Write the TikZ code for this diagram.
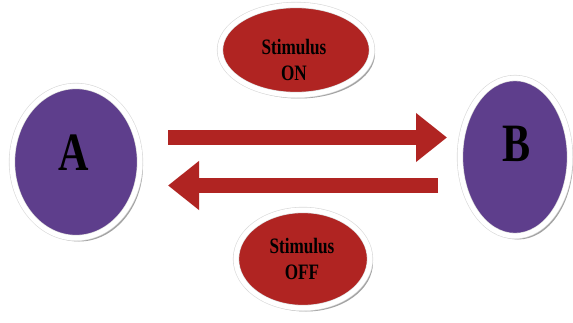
\documentclass[tikz,border=0pt]{standalone}
\usepackage{fontspec}
\setmainfont{Liberation Serif}
\newfontfamily\condserif[FakeStretch=0.78]{Liberation Serif}
\usetikzlibrary{arrows.meta,shadows,shapes.geometric}
\definecolor{statepurple}{RGB}{94,62,140}
\definecolor{stimred}{RGB}{176,36,34}
\tikzset{
  blob/.style={ellipse, inner sep=0pt, draw=black!15, double=white,
    double distance=5pt, line width=0.6pt,
    drop shadow={shadow xshift=3pt, shadow yshift=-3.5pt, fill=black!60, opacity=0.6}},
  statebox/.style={blob, fill=statepurple},
  stimbox/.style={blob, fill=stimred},
  bigletter/.style={font=\condserif\bfseries\fontsize{54}{54}\selectfont, text=black, inner sep=0pt},
  stimtext/.style={font=\condserif\bfseries\fontsize{22}{26}\selectfont, text=black, align=center, inner sep=0pt},
  bar/.style={stimred, line width=15pt, -{Triangle[length=31pt,width=47pt]}}
}
\begin{document}
\begin{tikzpicture}[x=1pt,y=1pt]
  \useasboundingbox[fill=white] (0,0) rectangle (573,322);

  % the two states
  \node[statebox, minimum width=128pt, minimum height=152pt] (A) at (76,160) {};
  \node[statebox, minimum width=110pt, minimum height=158pt] (B) at (515,165) {};
  \node[bigletter] (Alab) at (74,169) {A};
  \node[bigletter] (Blab) at (517,178) {B};

  % stimulus labels
  \node[stimbox, minimum width=152pt, minimum height=90pt] (on) at (296,272) {};
  \node[stimbox, minimum width=134pt, minimum height=98pt] (off) at (303,63) {};
  \node[stimtext] (ontext) at (294,262) {Stimulus\\ON};
  \node[stimtext] (offtext) at (302,63) {Stimulus\\OFF};

  % transitions between the states
  \coordinate (fwdstart) at (168,184.5);
  \coordinate (fwdend) at (447,184.5);
  \coordinate (backstart) at (438,136.5);
  \coordinate (backend) at (168,136.5);
  \draw[bar] (fwdstart) -- (fwdend);
  \draw[bar] (backstart) -- (backend);
\end{tikzpicture}
\end{document}
